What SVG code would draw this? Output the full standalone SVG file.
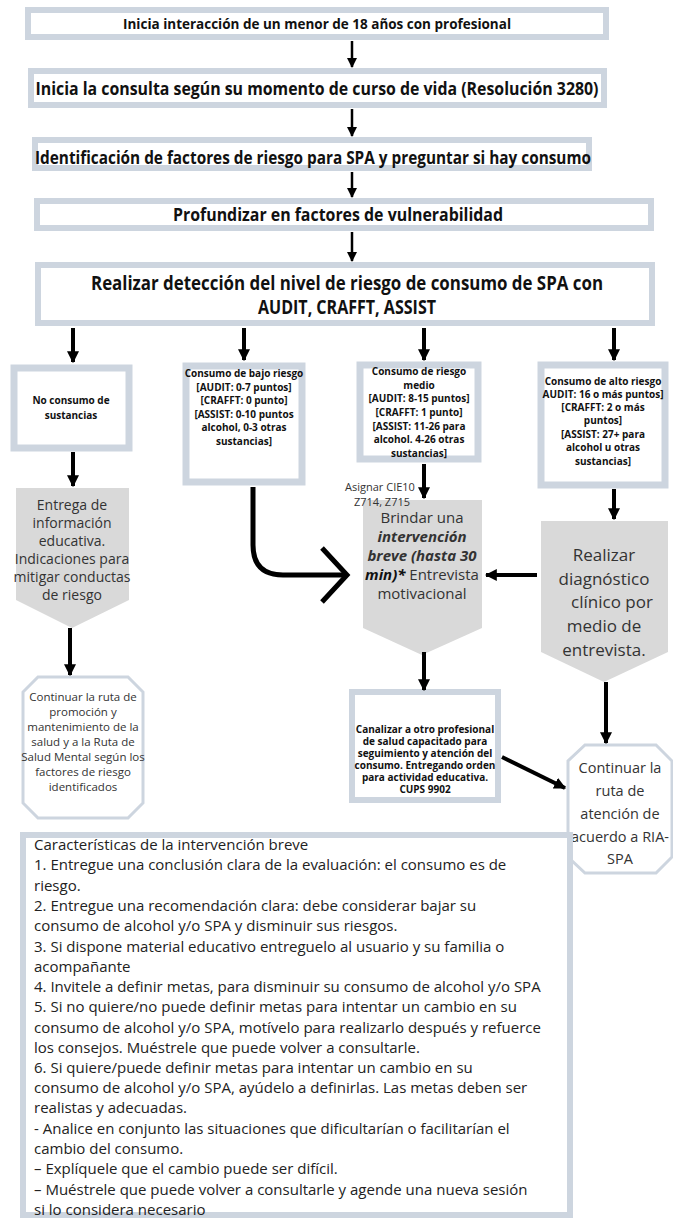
<svg xmlns="http://www.w3.org/2000/svg" width="673" height="1221" viewBox="0 0 673 1221">
<style>
.box{fill:#fff;stroke:#cdd5df;stroke-width:6}
.tbox{fill:#fff;stroke:#cdd5df;stroke-width:7}
.pent{fill:#d9d9d9;stroke:none}
.oct{fill:#fff;stroke:#cdd5df;stroke-width:3}
.h{font-family:"Open Sans","Liberation Sans",sans-serif;font-weight:bold;fill:#111;text-anchor:middle}
.s{font-family:"Open Sans","Liberation Sans",sans-serif;font-weight:bold;fill:#111;text-anchor:middle;font-size:10px}
.p{font-family:"Open Sans","Liberation Sans",sans-serif;fill:#333;text-anchor:middle}
.t{font-family:"Open Sans","Liberation Sans",sans-serif;fill:#222;font-size:15px}
.c{stroke:#000;stroke-width:2.5;fill:none}
.c4{stroke:#000;stroke-width:4;fill:none}
</style>
<defs>
<marker id="ah" viewBox="0 0 10 10" refX="9" refY="5" markerWidth="4" markerHeight="4" orient="auto" markerUnits="strokeWidth"><path d="M0,0 L10,5 L0,10 z" fill="#000"/></marker>
<marker id="ah2" viewBox="0 0 10 10" refX="9" refY="5" markerWidth="3" markerHeight="3" orient="auto" markerUnits="strokeWidth"><path d="M0,0 L10,5 L0,10 z" fill="#000"/></marker>
</defs>

<g id="n1"><rect class="box" x="28" y="10" width="578" height="27"/><text class="h" x="317" y="29" font-size="15" textLength="388" lengthAdjust="spacingAndGlyphs">Inicia interacción de un menor de 18 años con profesional</text></g>
<g id="n2"><rect class="box" x="31" y="71" width="573" height="34"/><text class="h" x="317" y="95" font-size="18" textLength="563" lengthAdjust="spacingAndGlyphs">Inicia la consulta según su momento de curso de vida (Resolución 3280)</text></g>
<g id="n3"><rect class="box" x="35" y="140" width="554" height="28"/><text class="h" x="313" y="164" font-size="17" textLength="556" lengthAdjust="spacingAndGlyphs">Identificación de factores de riesgo para SPA y preguntar si hay consumo</text></g>
<g id="n4"><rect class="box" x="37" y="201" width="614" height="27"/><text class="h" x="338" y="221" font-size="17" textLength="330" lengthAdjust="spacingAndGlyphs">Profundizar en factores de vulnerabilidad</text></g>
<g id="n5"><rect class="box" x="38" y="265" width="614" height="58"/><text class="h" x="347" y="290" font-size="19" textLength="512" lengthAdjust="spacingAndGlyphs">Realizar detección del nivel de riesgo de consumo de SPA con</text><text class="h" x="347" y="314" font-size="19" textLength="178" lengthAdjust="spacingAndGlyphs">AUDIT, CRAFFT, ASSIST</text></g>

<g id="nA"><rect class="tbox" x="14" y="368" width="115" height="80"/><text class="s" x="71" y="404">No consumo de</text><text class="s" x="71" y="419">sustancias</text></g>
<g id="nB"><rect class="tbox" x="186" y="366" width="116" height="116"/>
<text class="s" x="244" y="377">Consumo de bajo riesgo</text><text class="s" x="244" y="391">[AUDIT: 0-7 puntos]</text><text class="s" x="244" y="404">[CRAFFT: 0 punto]</text><text class="s" x="244" y="418">[ASSIST: 0-10 puntos</text><text class="s" x="244" y="431">alcohol, 0-3 otras</text><text class="s" x="244" y="445">sustancias]</text></g>
<g id="nC"><rect class="tbox" x="360" y="365" width="118" height="94"/>
<text class="s" x="419" y="375">Consumo de riesgo</text><text class="s" x="419" y="389">medio</text><text class="s" x="419" y="402">[AUDIT: 8-15 puntos]</text><text class="s" x="419" y="416">[CRAFFT: 1 punto]</text><text class="s" x="419" y="430">[ASSIST: 11-26 para</text><text class="s" x="419" y="443">alcohol. 4-26 otras</text><text class="s" x="419" y="457">sustancias]</text></g>
<g id="nD"><rect class="tbox" x="541" y="365" width="124" height="120"/>
<text class="s" x="603" y="385">Consumo de alto riesgo</text><text class="s" x="603" y="398">AUDIT: 16 o más puntos]</text><text class="s" x="603" y="411">[CRAFFT: 2 o más</text><text class="s" x="603" y="424">puntos]</text><text class="s" x="603" y="438">[ASSIST: 27+ para</text><text class="s" x="603" y="451">alcohol u otras</text><text class="s" x="603" y="465">sustancias]</text></g>

<g id="pA"><polygon class="pent" points="16,488 129,488 129,600 72,628 16,600"/>
<text class="p" x="72" y="510" font-size="14">Entrega de</text><text class="p" x="72" y="528" font-size="14">información</text><text class="p" x="72" y="546" font-size="14">educativa.</text><text class="p" x="72" y="564" font-size="14">Indicaciones para</text><text class="p" x="72" y="582" font-size="14">mitigar conductas</text><text class="p" x="72" y="600" font-size="14">de riesgo</text></g>
<g id="pC"><polygon class="pent" points="363,500 482,500 482,628 422,655 363,628"/>
<text class="p" x="422" y="523" font-size="15">Brindar una</text>
<text class="p" x="422" y="542" font-size="15" font-weight="bold" font-style="italic" fill="#111">intervención</text>
<text class="p" x="422" y="561" font-size="15" font-weight="bold" font-style="italic" fill="#111">breve (hasta 30</text>
<text class="p" x="422" y="580" font-size="15"><tspan font-weight="bold" font-style="italic" fill="#111">min)*</tspan> Entrevista</text>
<text class="p" x="422" y="599" font-size="15">motivacional</text></g>
<g id="pD"><polygon class="pent" points="541,521 668,521 668,652 604,682 541,652"/>
<text class="p" x="604" y="561" font-size="17">Realizar</text><text class="p" x="604" y="585" font-size="17">diagnóstico</text><text class="p" x="612" y="608" font-size="17">clínico por</text><text class="p" x="604" y="632" font-size="17">medio de</text><text class="p" x="604" y="656" font-size="17">entrevista.</text></g>

<g id="oA"><polygon class="oct" points="38,677 128,677 143,692 143,803 128,818 38,818 23,803 23,692"/>
<text class="p" x="83" y="701" font-size="11.5">Continuar la ruta de</text><text class="p" x="83" y="716" font-size="11.5">promoción y</text><text class="p" x="83" y="731" font-size="11.5">mantenimiento de la</text><text class="p" x="83" y="746" font-size="11.5">salud y a la Ruta de</text><text class="p" x="83" y="761" font-size="11.5">Salud Mental según los</text><text class="p" x="83" y="776" font-size="11.5">factores de riesgo</text><text class="p" x="83" y="791" font-size="11.5">identificados</text></g>

<g id="nE"><rect class="box" x="352" y="692" width="146" height="108"/>
<text class="s" x="425" y="733" font-size="9.5">Canalizar a otro profesional</text><text class="s" x="425" y="745" font-size="9.5">de salud capacitado para</text><text class="s" x="425" y="757" font-size="9.5">seguimiento y atención del</text><text class="s" x="425" y="769" font-size="9.5">consumo. Entregando orden</text><text class="s" x="425" y="781" font-size="9.5">para actividad educativa.</text><text class="s" x="425" y="793" font-size="9.5">CUPS 9902</text></g>

<g id="oF"><polygon class="oct" points="585,745 656,745 672,761 672,857 656,873 585,873 568,857 568,761"/>
<text class="p" x="620" y="773" font-size="14.5">Continuar la</text><text class="p" x="620" y="796" font-size="14.5">ruta de</text><text class="p" x="620" y="819" font-size="14.5">atención de</text><text class="p" x="620" y="842" font-size="14.5">acuerdo a RIA-</text><text class="p" x="620" y="864" font-size="14.5">SPA</text></g>

<g id="lbl"><text class="p" x="380" y="491" font-size="11" fill="#777">Asignar CIE10</text><text class="p" x="382" y="506" font-size="11" fill="#777">Z714, Z715</text></g>

<g id="nG"><rect class="box" x="23" y="835" width="547" height="380"/>
<text class="t" x="34" y="850">Características de la intervención breve</text>
<text class="t" x="34" y="870">1. Entregue una conclusión clara de la evaluación: el consumo es de</text>
<text class="t" x="34" y="891">riesgo.</text>
<text class="t" x="34" y="911">2. Entregue una recomendación clara: debe considerar bajar su</text>
<text class="t" x="34" y="931">consumo de alcohol y/o SPA y disminuir sus riesgos.</text>
<text class="t" x="34" y="952">3. Si dispone material educativo entreguelo al usuario y su familia o</text>
<text class="t" x="34" y="972">acompañante</text>
<text class="t" x="34" y="992">4. Invitele a definir metas, para disminuir su consumo de alcohol y/o SPA</text>
<text class="t" x="34" y="1012">5. Si no quiere/no puede definir metas para intentar un cambio en su</text>
<text class="t" x="34" y="1033">consumo de alcohol y/o SPA, motívelo para realizarlo después y refuerce</text>
<text class="t" x="34" y="1053">los consejos. Muéstrele que puede volver a consultarle.</text>
<text class="t" x="34" y="1073">6. Si  quiere/puede definir metas para intentar un cambio en su</text>
<text class="t" x="34" y="1093">consumo de alcohol y/o SPA, ayúdelo a definirlas. Las metas deben ser</text>
<text class="t" x="34" y="1113">realistas y adecuadas.</text>
<text class="t" x="34" y="1134">- Analice en conjunto las situaciones que dificultarían o facilitarían el</text>
<text class="t" x="34" y="1154">cambio del consumo.</text>
<text class="t" x="34" y="1174">– Explíquele que el cambio puede ser difícil.</text>
<text class="t" x="34" y="1195">– Muéstrele que puede volver a consultarle y agende una nueva sesión</text>
<text class="t" x="34" y="1215">si lo considera necesario</text></g>

<g id="connectors">
<line class="c" x1="352" y1="41" x2="352" y2="67" marker-end="url(#ah)"/>
<line class="c" x1="352" y1="109" x2="352" y2="136" marker-end="url(#ah)"/>
<line class="c" x1="352" y1="172" x2="352" y2="197" marker-end="url(#ah)"/>
<line class="c" x1="352" y1="232" x2="352" y2="261" marker-end="url(#ah)"/>
<line class="c4" x1="73" y1="328" x2="73" y2="362" marker-end="url(#ah2)"/>
<line class="c4" x1="244" y1="328" x2="244" y2="360" marker-end="url(#ah2)"/>
<line class="c4" x1="424" y1="328" x2="424" y2="360" marker-end="url(#ah2)"/>
<line class="c4" x1="614" y1="328" x2="614" y2="360" marker-end="url(#ah2)"/>
<line class="c4" x1="73" y1="452" x2="73" y2="486" marker-end="url(#ah2)"/>
<path d="M253,487 L253,545 Q253,575 283,575 L346,575" stroke="#000" stroke-width="5" fill="none"/>
<path d="M322,548 L347,575 L322,602" stroke="#000" stroke-width="5" fill="none"/>
<line class="c4" x1="424" y1="464" x2="424" y2="498" marker-end="url(#ah2)"/>
<line class="c4" x1="537" y1="575" x2="486" y2="575" marker-end="url(#ah2)"/>
<line class="c4" x1="614" y1="489" x2="614" y2="519" marker-end="url(#ah2)"/>
<line class="c4" x1="70" y1="628" x2="70" y2="675" marker-end="url(#ah2)"/>
<line class="c4" x1="424" y1="652" x2="424" y2="690" marker-end="url(#ah2)"/>
<line class="c4" x1="502" y1="757" x2="565" y2="788" marker-end="url(#ah2)"/>
<line class="c4" x1="606" y1="682" x2="606" y2="743" marker-end="url(#ah2)"/>
</g>
</svg>
